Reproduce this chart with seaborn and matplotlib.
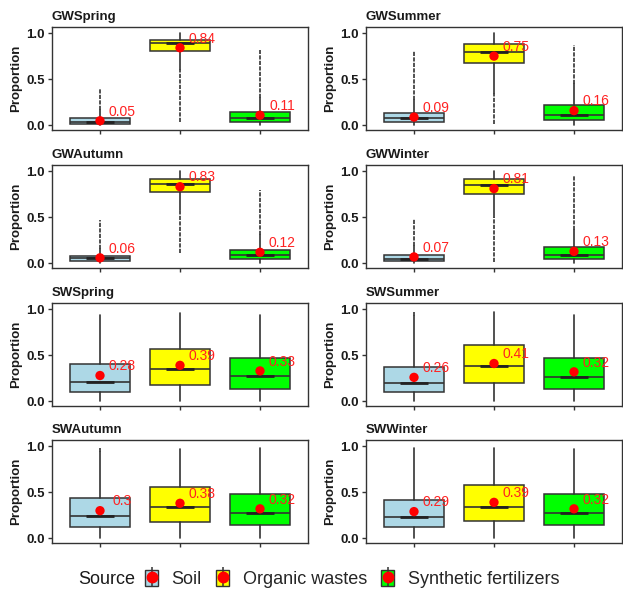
import matplotlib
matplotlib.use("Agg")
import matplotlib.pyplot as plt
from matplotlib.patches import Rectangle
from matplotlib.lines import Line2D
from matplotlib.legend_handler import HandlerTuple
import seaborn as sns
import pandas as pd

# ---------------- data ----------------
panels = ["GWSpring", "GWSummer", "GWAutumn", "GWWinter",
          "SWSpring", "SWSummer", "SWAutumn", "SWWinter"]
sources = ["Soil", "Organic wastes", "Synthetic fertilizers"]
colors = ["#ADD8E6", "#FFFF00", "#00FF00"]

means = [[0.05, 0.84, 0.11], [0.09, 0.75, 0.16], [0.06, 0.83, 0.12], [0.07, 0.81, 0.13],
         [0.28, 0.39, 0.33], [0.26, 0.41, 0.32], [0.30, 0.38, 0.32], [0.29, 0.39, 0.32]]
q1 = [[0.018, 0.800, 0.036], [0.040, 0.670, 0.058], [0.029, 0.777, 0.043], [0.025, 0.748, 0.047],
      [0.097, 0.176, 0.133], [0.097, 0.198, 0.133], [0.126, 0.173, 0.140], [0.120, 0.188, 0.140]]
med = [[0.040, 0.890, 0.080], [0.080, 0.795, 0.115], [0.054, 0.863, 0.094], [0.047, 0.850, 0.094],
       [0.210, 0.355, 0.276], [0.198, 0.378, 0.266], [0.245, 0.343, 0.278], [0.235, 0.343, 0.280]]
q3 = [[0.079, 0.928, 0.140], [0.130, 0.885, 0.216], [0.079, 0.910, 0.150], [0.090, 0.910, 0.173],
      [0.400, 0.570, 0.473], [0.367, 0.608, 0.475], [0.440, 0.552, 0.476], [0.420, 0.574, 0.476]]
whislo = [[0.0, 0.61, 0.0], [0.0, 0.35, 0.0], [0.0, 0.58, 0.0], [0.0, 0.50, 0.0],
          [0.005, 0.0, 0.0], [0.0, 0.0, 0.0], [0.0, 0.0, 0.0], [0.0, 0.0, 0.0]]
whishi = [[0.17, 1.0, 0.30], [0.27, 1.0, 0.45], [0.16, 1.0, 0.31], [0.19, 1.0, 0.36],
          [0.93, 0.96, 0.94], [0.92, 0.97, 0.94], [0.93, 0.97, 0.98], [0.98, 0.98, 0.97]]
# range covered by dense runs of outlying points (min, max)
out_lo = [[0.0, 0.04, 0.0], [0.0, 0.01, 0.0], [0.0, 0.11, 0.0], [0.0, 0.02, 0.0],
          [0.005, 0.0, 0.0], [0.0, 0.0, 0.0], [0.0, 0.0, 0.0], [0.0, 0.0, 0.0]]
out_hi = [[0.39, 1.0, 0.82], [0.80, 1.0, 0.87], [0.47, 1.0, 0.79], [0.48, 1.0, 0.96],
          [0.93, 0.96, 0.94], [0.97, 0.97, 0.94], [0.98, 0.97, 0.98], [0.98, 0.98, 0.97]]
yticks = [0.0, 0.5, 1.0]
ytick_labels = ["0.0", "0.5", "1.0"]

# ---------------- style ----------------
sns.set_theme(style="white")
plt.rcParams["font.family"] = ["Liberation Sans", "DejaVu Sans"]
DARK = "#333333"

W, H = 623, 591
fig = plt.figure(figsize=(W / 100, H / 100), dpi=100)

col_left = [52, 366]
row_top = [27, 165, 303, 440]
pw, ph = 256, 103

positions = [1, 2, 3]
for i, name in enumerate(panels):
    r, c = i // 2, i % 2
    ax = fig.add_axes([col_left[c] / W, (H - row_top[r] - ph) / H, pw / W, ph / H])
    stats = []
    for j in range(3):
        stats.append(dict(med=med[i][j], q1=q1[i][j], q3=q3[i][j],
                          whislo=whislo[i][j], whishi=whishi[i][j], fliers=[]))
    bp = ax.bxp(stats, positions=positions, widths=0.75, patch_artist=True,
                showcaps=False, showfliers=False,
                boxprops=dict(edgecolor=DARK, linewidth=1.1),
                medianprops=dict(color=DARK, linewidth=1.2),
                whiskerprops=dict(color=DARK, linewidth=1.2))
    for patch, col in zip(bp["boxes"], colors):
        patch.set_facecolor(col)
    # outlying points shown as dense dotted runs
    for j in range(3):
        if out_hi[i][j] > whishi[i][j]:
            ax.vlines(positions[j], whishi[i][j], out_hi[i][j], colors=DARK,
                      linestyles=(0, (2.5, 0.8)), linewidth=1.2, zorder=1)
        if out_lo[i][j] < whislo[i][j]:
            ax.vlines(positions[j], out_lo[i][j], whislo[i][j], colors=DARK,
                      linestyles=(0, (2.5, 0.8)), linewidth=1.2, zorder=1)
    # short darker summary segment near median
    ax.hlines(med[i], [p - 0.17 for p in positions], [p + 0.17 for p in positions],
              colors="#222222", linewidth=2.0, zorder=3)
    # means
    df = pd.DataFrame({"x": positions, "y": means[i]})
    sns.scatterplot(data=df, x="x", y="y", ax=ax, color="red", s=45,
                    edgecolor="none", zorder=5, legend=False)
    for p, m in zip(positions, means[i]):
        ax.text(p + 0.28, m + 0.1, f"{m:g}", color="#FF2222", fontsize=10,
                ha="center", va="center", zorder=6)
    ax.set_xlim(0.4, 3.6)
    ax.set_ylim(-0.05, 1.065)
    ax.set_xticks(positions)
    ax.set_xticklabels([])
    ax.set_yticks(yticks)
    ax.set_yticklabels(ytick_labels, fontweight="bold", fontsize=9.5, color="#1a1a1a")
    ax.tick_params(bottom=True, left=True, length=3, width=1, color=DARK, pad=2)
    ax.set_xlabel("")
    ax.set_ylabel("Proportion", fontweight="bold", fontsize=9.5, color="#1a1a1a", labelpad=3)
    ax.set_title(name, loc="left", fontweight="bold", fontsize=9.5, pad=5, color="#1a1a1a")
    for s in ax.spines.values():
        s.set_color(DARK)
        s.set_linewidth(1.0)
        s.set_visible(True)
    ax.grid(False)

# ---------------- legend ----------------
handles = []
for col in colors:
    box = Rectangle((0, 0), 1, 1, facecolor=col, edgecolor=DARK, linewidth=1)
    vline = Line2D([], [], color=DARK, marker="|", markersize=15, linestyle="none",
                   markeredgewidth=1.1)
    dot = Line2D([], [], color="red", marker="o", markersize=7.5, linestyle="none")
    handles.append((box, vline, dot))
fig.text(78 / W, 1 - 579 / H, "Source", fontsize=13, ha="left", va="center", color="#1a1a1a")
fig.legend(handles, sources, loc="center left", bbox_to_anchor=(145 / W, 1 - 579 / H),
           ncol=3, frameon=False, fontsize=13, handlelength=0.72, handleheight=0.95,
           handletextpad=0.75, columnspacing=0.8, borderaxespad=0, borderpad=0,
           handler_map={tuple: HandlerTuple(ndivide=1, pad=0)})

fig.savefig("out.png", dpi=100)
